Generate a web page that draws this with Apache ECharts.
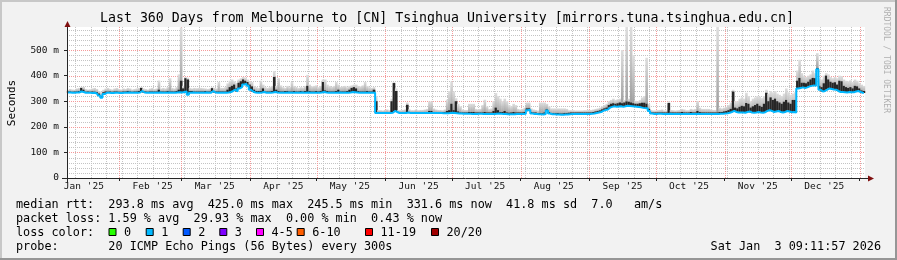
<!DOCTYPE html>
<html><head><meta charset="utf-8">
<script src="https://cdn.jsdelivr.net/npm/echarts@6/dist/echarts.min.js"></script>
<style>html,body{margin:0;padding:0;background:#f2f2f2}#c{width:897px;height:260px}</style>
</head><body><div id="c"></div>
<script>
// ---- time frame (days, measured from the plot start Jan 8 2025 09:11:57) ----
const START_DOY = 7.383;           // day-of-year (0-based) of plot start
const SPAN_DAYS = 360;
const monthStartDoy = [0,31,59,90,120,151,181,212,243,273,304,334,365];
const monthLabels = ["Jan '25","Feb '25","Mar '25","Apr '25","May '25","Jun '25","Jul '25","Aug '25","Sep '25","Oct '25","Nov '25","Dec '25"];
const firstSundayDoy = 11;
const yLabelValues = [0,100,200,300,400,500];
const Y_MAX = 590;

// ---- one value per day (ms) ----
const median = [
334,334,333,333,334,334,338,336,333,333, 333,332,333,330,322,314,328,333,333,332,
332,333,333,332,332,333,333,334,333,333, 333,333,334,340,334,333,333,333,333,333,
333,334,333,333,333,334,333,333,333,334, 335,334,336,338,325,333,334,333,333,333,
333,333,334,333,333,340,334,333,333,333, 333,333,334,336,340,345,338,350,355,365,
368,360,345,338,334,333,333,334,336,333, 333,333,334,336,334,333,333,333,333,334,
333,333,333,333,333,334,333,333,334,333, 333,333,333,333,334,336,334,333,333,333,
333,333,334,333,333,333,333,334,336,335, 334,333,333,333,333,333,333,333,333,254,
254,254,254,254,254,254,255,262,258,254, 254,254,254,256,254,254,254,254,254,254,
254,254,254,254,254,254,254,254,254,253, 253,253,254,255,254,253,252,252,251,251,
251,251,250,250,250,251,251,250,250,250, 250,250,250,251,252,251,250,250,249,249,
249,249,250,250,250,250,251,265,267,252, 250,250,249,249,248,250,264,252,249,249,
248,248,247,247,248,248,249,250,250,250, 250,250,250,250,250,250,251,252,254,256,
258,262,266,268,275,278,280,278,279,280, 278,280,282,281,280,279,278,277,276,274,
273,273,262,252,250,250,251,251,250,250, 250,251,250,250,250,250,250,250,250,250,
250,250,250,250,251,250,250,250,250,250, 250,250,250,250,251,251,252,253,255,258,
262,258,256,256,256,255,258,260,256,255, 256,258,256,255,257,262,265,262,258,260,
262,258,256,258,262,260,257,258,256,350, 352,354,352,354,358,360,362,360,425,345,
338,340,345,350,348,346,345,340,336,336, 335,334,336,335,335,338,340,336,333,332
];
const smokeDark = [
338,338,337,338,338,340,352,345,337,338, 337,338,337,336,330,320,335,338,337,338,
337,338,338,337,337,338,338,340,338,337, 338,338,340,352,340,338,337,338,338,338,
338,345,338,338,338,340,338,338,338,340, 345,380,350,390,385,340,340,338,338,338,
338,338,340,338,338,351,340,338,338,338, 338,338,345,355,360,365,350,372,378,385,
380,375,365,358,345,340,340,340,350,338, 338,338,340,395,345,340,338,338,340,340,
338,338,340,338,338,340,338,340,360,340, 338,338,340,338,340,375,342,340,338,338,
338,340,345,338,338,338,340,345,352,355, 350,340,338,338,338,340,338,338,345,300,
258,258,258,258,258,258,300,371,340,258, 258,258,258,286,258,258,258,258,258,258,
258,258,258,262,262,258,258,258,258,258, 258,262,265,290,265,300,260,256,256,256,
256,258,258,258,256,256,256,256,258,256, 256,256,262,275,265,258,258,262,256,255,
256,258,256,256,256,256,258,272,272,258, 256,256,254,254,254,256,268,258,254,254,
254,254,252,252,254,254,255,256,256,256, 256,256,256,256,256,256,256,258,260,262,
264,268,272,275,285,290,292,290,292,295, 292,295,299,298,295,292,290,290,292,294,
294,290,270,256,256,256,256,256,256,256, 256,293,256,256,256,256,256,258,256,256,
256,258,256,256,262,258,256,256,256,256, 256,256,256,256,258,258,260,262,265,270,
338,275,272,278,282,280,293,290,275,280, 285,290,282,278,290,333,300,315,305,310,
300,295,290,298,305,295,290,305,305,380, 391,372,372,370,376,385,391,390,430,360,
355,370,400,385,376,372,374,365,380,378, 360,355,352,355,350,360,358,350,342,340
];
const smokeMax = [
345,348,346,345,350,352,355,356,348,346, 347,350,352,348,340,335,345,350,352,348,
346,350,352,348,346,350,348,352,350,346, 348,350,352,355,350,348,346,350,352,348,
350,381,350,352,350,355,390,352,350,355, 405,588,360,395,392,352,350,352,351,352,
352,351,350,348,350,355,352,350,375,352, 352,355,370,380,385,378,372,385,390,395,
392,385,378,375,360,355,352,380,365,355, 352,355,360,418,360,390,362,355,352,360,
355,375,360,356,352,355,354,360,403,365, 358,360,362,355,360,385,385,365,360,356,
360,375,365,356,358,360,355,360,362,365, 365,360,358,362,375,360,355,352,355,320,
265,265,264,266,268,265,310,375,350,265, 265,266,268,295,268,265,265,268,265,266,
266,268,270,299,299,272,268,266,266,265, 268,306,340,377,338,312,290,280,268,266,
266,290,290,290,270,268,270,285,306,280, 270,272,300,332,320,310,300,310,300,285,
280,290,285,270,268,270,275,295,295,272, 268,266,264,295,295,295,290,280,272,272,
272,272,272,272,272,270,265,265,265,264, 264,264,264,265,265,266,266,268,270,272,
275,280,285,290,300,305,310,305,308,310, 500,305,590,310,590,480,302,300,305,315,
320,470,290,266,264,264,265,266,268,264, 264,300,266,265,264,265,266,270,268,265,
265,270,268,270,300,275,270,270,270,270, 268,266,266,590,275,272,275,278,285,295,
345,300,300,310,315,310,333,320,300,310, 315,320,318,312,320,345,330,340,335,340,
330,325,320,330,350,335,325,330,335,420, 462,410,400,395,400,405,420,410,488,390,
385,400,410,405,395,390,395,390,400,398, 385,380,378,382,375,385,380,372,365,360
];

// ---- legend texts ----
const titleText = "Last 360 Days from Melbourne to [CN] Tsinghua University [mirrors.tuna.tsinghua.edu.cn]";
const rttLine  = "median rtt:  293.8 ms avg  425.0 ms max  245.5 ms min  331.6 ms now  41.8 ms sd  7.0   am/s";
const lossLine = "packet loss: 1.59 % avg  29.93 % max  0.00 % min  0.43 % now";
const lossHead = "loss color:";
const lossNames = ["0","1","2","3","4-5","6-10","11-19","20/20"];
const lossColors = ["#26ff00","#00b8ff","#0059ff","#7e00ff","#ff00ff","#ff5e00","#ff0000","#a00000"];
const probeLine = "probe:       20 ICMP Echo Pings (56 Bytes) every 300s";
const stampText = "Sat Jan  3 09:11:57 2026";

// ---- derived grid / label positions ----
const labelDays = monthLabels.map((l,i)=>monthStartDoy[i]+15-START_DOY);
const majorDays = monthStartDoy.slice(1).map(v=>v-START_DOY);
const minorDays = [];
for (let v=firstSundayDoy-START_DOY; v<SPAN_DAYS; v+=7) minorDays.push(v);
const yMinor = [], yMajor = [];
for (let v=20; v<=Y_MAX; v+=20) (v%100===0 ? yMajor : yMinor).push(v);

const smokeData = median.map((m,i)=>[i+0.5, m, smokeDark[i], smokeMax[i]]);
const lineData = median.map((m,i)=>[i+0.5, m]);

const MONO = 'DejaVu Sans Mono';
const chart = echarts.init(document.getElementById('c'), null, {renderer:'canvas'});

function renderSmoke(params, api){
  const x = api.value(0), m = api.value(1), dk = api.value(2), hi = api.value(3);
  const a = api.coord([x-0.5, m]);
  const b = api.coord([x+0.5, hi]);
  const c = api.coord([x+0.5, dk]);
  const w = b[0]-a[0]+0.4;
  const ch = [];
  if (hi > m) ch.push({type:'rect', shape:{x:a[0]-0.2, y:b[1], width:w, height:a[1]-b[1]},
    style:{fill:{type:'linear',x:0,y:0,x2:0,y2:1,colorStops:[{offset:0,color:'#dedede'},{offset:1,color:'#9c9c9c'}]}}});
  if (dk > m) ch.push({type:'rect', shape:{x:a[0]-0.2, y:c[1], width:w, height:a[1]-c[1]}, style:{fill:'#262626'}});
  return {type:'group', children:ch};
}
function vGrid(color){
  return function(params, api){
    const cs = params.coordSys;
    const x = Math.round(api.coord([api.value(0), 0])[0]) + 0.5;
    return {type:'line', silent:true, shape:{x1:x, y1:cs.y, x2:x, y2:cs.y+cs.height},
      style:{stroke:color, fill:null, lineWidth:1, lineDash:[1,1]}};
  };
}
function hGrid(color){
  return function(params, api){
    const cs = params.coordSys;
    const y = Math.round(api.coord([0, api.value(1)])[1]) + 0.5;
    return {type:'line', silent:true, shape:{x1:cs.x, y1:y, x2:cs.x+cs.width, y2:y},
      style:{stroke:color, fill:null, lineWidth:1, lineDash:[1,1]}};
  };
}

const MINOR = '#c4c4c4', MAJOR = '#f59a9a';

const graphics = [];
graphics.push({type:'rect', shape:{x:0,y:0,width:897,height:2}, style:{fill:'#c8c8c8'}, silent:true});
graphics.push({type:'rect', shape:{x:0,y:0,width:2,height:260}, style:{fill:'#c8c8c8'}, silent:true});
graphics.push({type:'rect', shape:{x:0,y:258,width:897,height:2}, style:{fill:'#969696'}, silent:true});
graphics.push({type:'rect', shape:{x:895,y:0,width:2,height:260}, style:{fill:'#969696'}, silent:true});
graphics.push({type:'text', x:447, y:19, style:{text:titleText, font:'13.25px '+MONO, fill:'#000', align:'center', verticalAlign:'middle'}});
graphics.push({type:'text', x:12, y:103, rotation:Math.PI/2, style:{text:'Seconds', font:'11px '+MONO, fill:'#000', align:'center', verticalAlign:'middle'}});
graphics.push({type:'text', x:886, y:60, rotation:-Math.PI/2, style:{text:'RRDTOOL / TOBI OETIKER', font:'8px '+MONO, fill:'#b0b0b0', align:'center', verticalAlign:'middle'}});
graphics.push({type:'line', shape:{x1:62,y1:178.5,x2:869,y2:178.5}, style:{stroke:'#262626',lineWidth:1}, z:20});
graphics.push({type:'line', shape:{x1:67.5,y1:25,x2:67.5,y2:182}, style:{stroke:'#262626',lineWidth:1}, z:20});
graphics.push({type:'polygon', shape:{points:[[67.5,21],[64.5,27],[70.5,27]]}, style:{fill:'#801010'}, z:21});
graphics.push({type:'polygon', shape:{points:[[874,178.5],[868,175.5],[868,181.5]]}, style:{fill:'#801010'}, z:21});
const F = '11.8px '+MONO;
const rowY = [204.5, 218.5, 232.5, 246.5];
function txt(x,y,t,align){ graphics.push({type:'text', x:x, y:y, style:{text:t, font:F, fill:'#000', align:align||'left', verticalAlign:'middle'}}); }
txt(16,rowY[0],rttLine);
txt(16,rowY[1],lossLine);
txt(16,rowY[2],lossHead);
[108.5,145.7,182.7,219.3,256,296.7,365,431].forEach((x,i)=>{
  graphics.push({type:'rect', shape:{x:x+0.5,y:rowY[2]-4,width:7,height:7}, style:{fill:lossColors[i], stroke:'#000', lineWidth:1}});
  txt(x+15.5,rowY[2],lossNames[i]);
});
txt(16,rowY[3],probeLine);
txt(881,rowY[3],stampText,'right');

chart.setOption({
  animation:false,
  backgroundColor:'#f2f2f2',
  grid:{left:67, right:32, top:27, bottom:82, show:true, backgroundColor:'#ffffff', borderWidth:0},
  xAxis:{type:'value', min:0, max:SPAN_DAYS,
    axisLine:{show:false},
    axisTick:{show:true, customValues:majorDays, length:3, lineStyle:{color:'#262626'}},
    splitLine:{show:false},
    axisLabel:{customValues:labelDays, margin:4, fontFamily:MONO, fontSize:9.5, color:'#111',
      formatter:(v)=>{ let best=0; labelDays.forEach((d,i)=>{ if(Math.abs(d-v)<Math.abs(labelDays[best]-v)) best=i; }); return monthLabels[best]; }}
  },
  yAxis:{type:'value', min:0, max:Y_MAX, interval:20,
    axisLine:{show:false},
    axisTick:{show:true, customValues:yLabelValues, length:3, lineStyle:{color:'#262626'}},
    axisLabel:{customValues:yLabelValues, margin:8, fontFamily:MONO, fontSize:9.5, color:'#111',
      formatter:(v)=> v===0 ? '0' : v+' m'},
    splitLine:{show:false}
  },
  graphic:graphics,
  series:[
    {type:'custom', renderItem:vGrid(MINOR), data:minorDays.map(v=>[v,0]), z:1, silent:true},
    {type:'custom', renderItem:hGrid(MINOR), data:yMinor.map(v=>[0,v]), z:1, silent:true},
    {type:'custom', renderItem:vGrid(MAJOR), data:majorDays.map(v=>[v,0]), z:2, silent:true},
    {type:'custom', renderItem:hGrid(MAJOR), data:yMajor.map(v=>[0,v]), z:2, silent:true},
    {type:'custom', renderItem:renderSmoke, data:smokeData, z:3, silent:true,
      encode:{x:0, y:[1,2,3]}},
    {type:'line', data:lineData, step:'middle', showSymbol:false, symbol:'none', z:4,
      lineStyle:{color:'#00b8ff', width:2}}
  ]
});
</script></body></html>
